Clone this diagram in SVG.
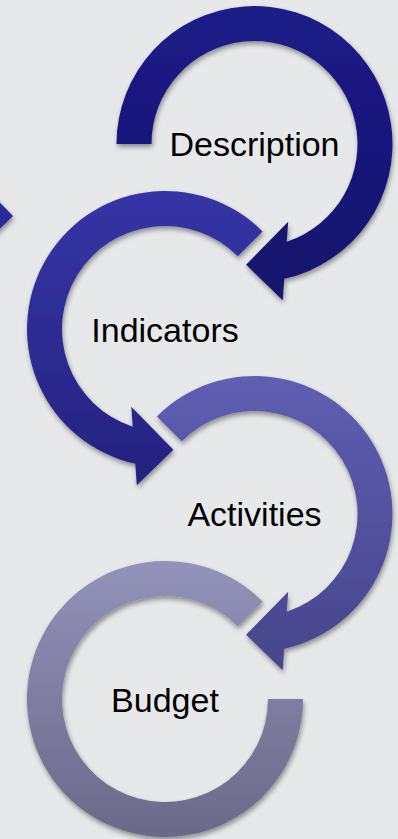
<svg xmlns="http://www.w3.org/2000/svg" width="398" height="839" viewBox="0 0 398 839">
  <defs>
    <style>
      .label { font-family: "Liberation Sans", Arial, sans-serif; font-size: 34px; fill: #000; text-anchor: middle; }
    </style>
    <filter id="shadow" x="-10%" y="-10%" width="125%" height="125%">
      <feDropShadow dx="1" dy="3" stdDeviation="2.5" flood-color="#000" flood-opacity="0.4"/>
    </filter>
    <linearGradient id="g1" x1="0" y1="0" x2="0" y2="1">
      <stop offset="0" stop-color="#1c1b89"/>
      <stop offset="1" stop-color="#15136c"/>
    </linearGradient>
    <linearGradient id="g2" x1="0" y1="0" x2="0" y2="1">
      <stop offset="0" stop-color="#3534a6"/>
      <stop offset="1" stop-color="#252280"/>
    </linearGradient>
    <linearGradient id="g3" x1="0" y1="0" x2="0" y2="1">
      <stop offset="0" stop-color="#5f5eb3"/>
      <stop offset="1" stop-color="#47458b"/>
    </linearGradient>
    <linearGradient id="g4" x1="0" y1="0" x2="0" y2="1">
      <stop offset="0" stop-color="#9392ba"/>
      <stop offset="1" stop-color="#6c6889"/>
    </linearGradient>
    <!-- ring arrows, drawn around a local origin; outer radius 138, inner 103 -->
    <path id="arrowFromLeft" d="M -138 0 A 138 138 0 1 1 29.7 134.8 L 28.2 156.3 L -8.4 120.7 L 33.7 77.7 L 32.25 97.8 A 103 103 0 1 0 -103 0 Z"/>
    <path id="arrowFromUpperLeft" d="M -97.58 -97.58 A 138 138 0 1 1 29.7 134.8 L 28.2 156.3 L -8.4 120.7 L 33.7 77.7 L 32.25 97.8 A 103 103 0 1 0 -72.83 -72.83 Z"/>
    <path id="openRing" d="M 138 0 A 138 138 0 1 1 97.58 -97.58 L 72.83 -72.83 A 103 103 0 1 0 103 0 Z"/>
  </defs>

  <rect width="398" height="839" fill="#e7e8ea"/>

  <g id="connectors">
    <!-- arrowhead entering from the left edge -->
    <polygon points="-29,173 13,216 -24,252" fill="#2b2a9b" filter="url(#shadow)"/>
  </g>

  <g id="node-description">
    <g filter="url(#shadow)">
      <use href="#arrowFromLeft" transform="translate(254.5 144)" fill="url(#g1)"/>
    </g>
    <text class="label" x="254.5" y="156">Description</text>
  </g>

  <g id="node-indicators">
    <g filter="url(#shadow)">
      <use href="#arrowFromUpperLeft" transform="translate(165 329) scale(-1 1)" fill="url(#g2)"/>
    </g>
    <text class="label" x="165" y="342">Indicators</text>
  </g>

  <g id="node-activities">
    <g filter="url(#shadow)">
      <use href="#arrowFromUpperLeft" transform="translate(254.5 514)" fill="url(#g3)"/>
    </g>
    <text class="label" x="254.5" y="526">Activities</text>
  </g>

  <g id="node-budget">
    <g filter="url(#shadow)">
      <use href="#openRing" transform="translate(165 699)" fill="url(#g4)"/>
    </g>
    <text class="label" x="165" y="712">Budget</text>
  </g>
</svg>
